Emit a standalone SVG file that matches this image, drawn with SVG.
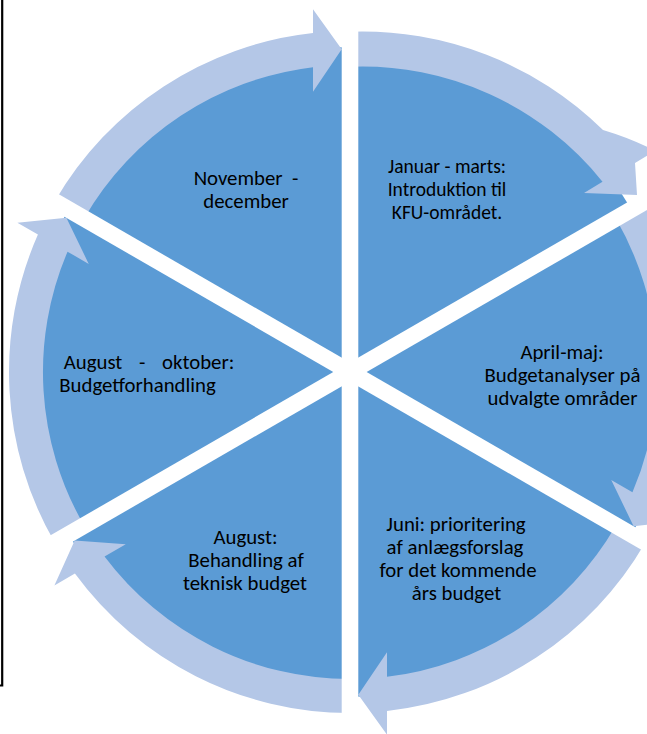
<svg xmlns="http://www.w3.org/2000/svg" width="647" height="734" viewBox="0 0 647 734">
<style>
.sec{fill:#5B9BD5}
.arr{fill:#B4C7E7}
.gap{stroke:#FFFFFF;stroke-width:16.6;fill:none}
text{font-family:Carlito,Lato,"Liberation Sans",sans-serif;font-size:20.8px;fill:#000;text-anchor:middle}
</style>
<defs>
<path id="wedge" d="M350,372 L68.5,209.5 A325,325 0 0 1 350,47 Z"/>
<path id="arrow" d="M54.7,201.5 A341,341 0 0 1 313,33 L313,9.3 L341.7,49.3 L313,91.7 L313,67.2 A307,307 0 0 0 84.1,218.5 Z"/>
</defs>
<rect width="647" height="734" fill="#FFFFFF"/>
<path d="M2.2,0 V685.5 H0" fill="none" stroke="#000" stroke-width="2.2"/>
<g id="node-nov-dec">
<use href="#wedge" class="sec"/>
<text xml:space="preserve"><tspan x="246" y="184.5">November  -</tspan><tspan x="246" y="207.5">december</tspan></text>
</g>
<g id="node-jan-mar">
<use href="#wedge" class="sec" transform="rotate(60 350 372)"/>
<text style="font-size:19.5px"><tspan x="447" y="172.5">Januar - marts:</tspan><tspan x="447" y="195.5">Introduktion til</tspan><tspan x="447" y="218.5">KFU-området.</tspan></text>
</g>
<g id="node-apr-maj">
<use href="#wedge" class="sec" transform="rotate(120 350 372)"/>
<text><tspan x="562" y="358.5">April-maj:</tspan><tspan x="562.5" y="381.5">Budgetanalyser på</tspan><tspan x="562.5" y="404.5">udvalgte områder</tspan></text>
</g>
<g id="node-juni">
<use href="#wedge" class="sec" transform="rotate(180 350 372)"/>
<text><tspan x="456" y="531">Juni: prioritering</tspan><tspan x="455" y="554">af anlægsforslag</tspan><tspan x="458" y="577">for det kommende</tspan><tspan x="456.5" y="600">års budget</tspan></text>
</g>
<g id="node-august">
<use href="#wedge" class="sec" transform="rotate(240 350 372)"/>
<text><tspan x="245.5" y="544">August:</tspan><tspan x="246" y="567">Behandling af</tspan><tspan x="245" y="590">teknisk budget</tspan></text>
</g>
<g id="node-aug-okt">
<use href="#wedge" class="sec" transform="rotate(300 350 372)"/>
<text><tspan x="149" y="369" word-spacing="12">August - oktober:</tspan><tspan x="137.5" y="392">Budgetforhandling</tspan></text>
</g>
<g id="connectors">
<use href="#arrow" class="arr"/>
<path class="arr" d="M350,31.7 A343.5,343.5 0 0 1 603,130 Q633,139 655,151 L635,163 L637,195 L584,193 L602.5,181.7 A308.5,308.5 0 0 0 350,66.7 Z"/>
<use href="#arrow" class="arr" transform="rotate(120 350 372)"/>
<use href="#arrow" class="arr" transform="rotate(180 350 372)"/>
<use href="#arrow" class="arr" transform="rotate(240 350 372)"/>
<use href="#arrow" class="arr" transform="rotate(300 350 372)"/>
</g>
<g id="gaps">
<line class="gap" x1="350" y1="0" x2="350" y2="734"/>
<line class="gap" x1="670.4" y1="187" x2="29.6" y2="557"/>
<line class="gap" x1="29.6" y1="187" x2="670.4" y2="557"/>
</g>
</svg>
